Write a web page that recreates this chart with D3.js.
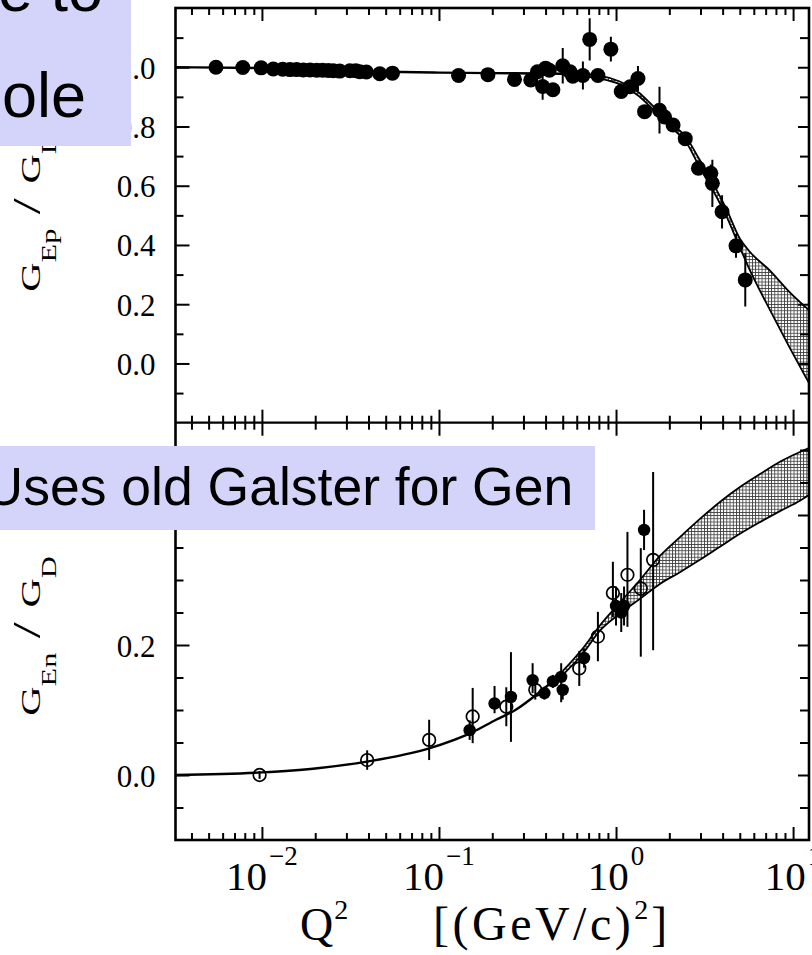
<!DOCTYPE html>
<html>
<head>
<meta charset="utf-8">
<script src="https://cdn.jsdelivr.net/npm/d3@7"></script>
<style>
  html, body { margin: 0; padding: 0; background: #fff; overflow: hidden; }
  svg { display: block; }
</style>
</head>
<body>
<svg id="chart" width="812" height="955"></svg>
<script>
// ---------------- data ----------------
// x axis (Q², log scale)
const xMajorTicks = [0.01, 0.1, 1, 10];
const xTickExponents = ["−2", "−1", "0", "1"];

// y axes
const gepMajorTicks = [0.0, 0.2, 0.4, 0.6, 0.8, 1.0];
const gepMinorTicks = [-0.1, 0.1, 0.3, 0.5, 0.7, 0.9, 1.1];
const gepTickLabels = ["0.0", "0.2", "0.4", "0.6", "0.8", "1.0"];
const genMajorTicks = [0.0, 0.2, 0.4];
const genMinorTicks = [-0.05, 0.05, 0.1, 0.15, 0.25, 0.3, 0.35, 0.45, 0.5];
const genTickLabels = ["0.0", "0.2", "0.4"];

// G_Ep / G_D measurements
const gepQ2 = [0.0055, 0.0078, 0.0099, 0.0116, 0.0131, 0.0144, 0.0157, 0.0171, 0.0187, 0.0204,
               0.0220, 0.0237, 0.0253, 0.0275, 0.0314, 0.0339, 0.0357, 0.0389, 0.0463, 0.0546,
               0.129, 0.189, 0.267, 0.330, 0.385, 0.400, 0.420, 0.440, 0.360, 0.500,
               0.550, 0.570, 0.650, 0.710, 0.790, 0.935, 1.07, 1.20, 1.33, 1.45,
               1.76, 1.88, 2.10, 2.46, 2.92, 3.43, 3.50, 3.97, 4.76, 5.37];
const gepRatio = [1.000, 0.999, 0.998, 0.994, 0.993, 0.992, 0.992, 0.991, 0.991, 0.990,
                  0.990, 0.989, 0.988, 0.987, 0.988, 0.988, 0.985, 0.984, 0.978, 0.980,
                  0.972, 0.975, 0.959, 0.957, 0.935, 0.997, 0.990, 0.924, 0.985, 1.005,
                  0.985, 0.970, 0.972, 1.094, 0.972, 1.061, 0.918, 0.934, 0.962, 0.850,
                  0.855, 0.832, 0.805, 0.759, 0.659, 0.642, 0.608, 0.512, 0.397, 0.282];
const gepErr = [0, 0, 0, 0, 0, 0, 0, 0, 0, 0,
                0, 0, 0, 0, 0, 0, 0, 0, 0, 0,
                0.01, 0.01, 0.01, 0.01, 0.045, 0.02, 0.02, 0.02, 0.02, 0.06,
                0.02, 0.02, 0.047, 0.071, 0.02, 0.042, 0.02, 0.02, 0.042, 0.02,
                0.079, 0.02, 0.02, 0.02, 0.02, 0.03, 0.08, 0.056, 0.04, 0.09];

// G_Ep / G_D fit: single curve, then uncertainty band
const gepCurveQ2 = [0.00325, 0.01, 0.02, 0.05, 0.1, 0.2, 0.35, 0.5];
const gepCurveVal = [1.0, 0.997, 0.993, 0.985, 0.982, 0.980, 0.979, 0.978];
const gepBandQ2 = [0.5, 0.8, 1.05, 1.35, 1.6, 2.1, 2.5, 2.95, 3.5, 4.2, 5.0, 5.7, 7.5, 9.4, 12.3];
const gepBandHi = [0.981, 0.972, 0.952, 0.914, 0.872, 0.806, 0.762, 0.690, 0.612, 0.522, 0.422, 0.377, 0.310, 0.245, 0.180];
const gepBandLo = [0.975, 0.962, 0.942, 0.902, 0.860, 0.792, 0.745, 0.665, 0.588, 0.497, 0.392, 0.315, 0.174, 0.062, -0.066];

// G_En / G_D measurements (open and filled symbols)
const genOpenQ2 = [0.0097, 0.0393, 0.088, 0.155, 0.240, 0.350, 0.620, 0.790, 0.960, 1.160, 1.380, 1.620];
const genOpenRatio = [0.000, 0.023, 0.054, 0.090, 0.105, 0.131, 0.164, 0.213, 0.280, 0.308, 0.287, 0.331];
const genOpenErrLo = [0.006, 0.015, 0.031, 0.041, 0.030, 0.015, 0.027, 0.038, 0.037, 0.080, 0.105, 0.139];
const genOpenErrHi = [0.006, 0.015, 0.031, 0.044, 0.030, 0.015, 0.027, 0.038, 0.048, 0.066, 0.062, 0.135];

const genFilledQ2 = [0.149, 0.206, 0.255, 0.338, 0.394, 0.440, 0.490, 0.500, 0.660, 1.000, 1.070, 1.110, 1.440];
const genFilledRatio = [0.069, 0.110, 0.120, 0.146, 0.126, 0.144, 0.151, 0.131, 0.180, 0.260, 0.250, 0.260, 0.377];
const genFilledErrLo = [0.015, 0.015, 0.069, 0.020, 0.010, 0.010, 0.039, 0.015, 0.015, 0.030, 0.030, 0.030, 0.031];
const genFilledErrHi = [0.015, 0.027, 0.069, 0.026, 0.010, 0.010, 0.021, 0.000, 0.015, 0.030, 0.030, 0.030, 0.031];

// G_En / G_D fit
const genCurveQ2 = [0.00325, 0.01, 0.02, 0.04, 0.088, 0.155, 0.21, 0.27, 0.38, 0.5];
const genCurveVal = [0.0, 0.004, 0.010, 0.021, 0.041, 0.066, 0.085, 0.100, 0.130, 0.157];
const genBandQ2 = [0.5, 0.65, 0.811, 1.05, 1.365, 1.77, 2.296, 2.978, 3.862, 5.01, 6.50, 8.43, 10.93, 12.3];
const genBandHi = [0.160, 0.195, 0.230, 0.265, 0.300, 0.337, 0.366, 0.394, 0.420, 0.443, 0.463, 0.482, 0.497, 0.503];
const genBandLo = [0.154, 0.187, 0.222, 0.248, 0.271, 0.294, 0.312, 0.331, 0.351, 0.371, 0.389, 0.406, 0.422, 0.431];

// ---------------- layout ----------------
const X_LEFT = 175.5, X_RIGHT = 809;
const Y_TOP = 8, Y_MID = 422.7, Y_BOT = 840;
const SERIF = "'Liberation Serif', 'Times New Roman', serif";
const SANS = "'Liberation Sans', Arial, Helvetica, sans-serif";
const BOX_FILL = "#d4d4fa";

const x = d3.scaleLog().domain([0.00325, 12.3]).range([X_LEFT, X_RIGHT]);
const yEp = d3.scaleLinear().domain([-0.2, 1.2]).range([Y_MID, Y_TOP]);
const yEn = d3.scaleLinear().domain([-0.1, 0.542]).range([Y_BOT, Y_MID]);

const svg = d3.select("#chart");
svg.append("rect").attr("width", 812).attr("height", 955).attr("fill", "#fff");

const defs = svg.append("defs");
const pat = defs.append("pattern").attr("id", "hatch")
  .attr("width", 3.2).attr("height", 3.2).attr("patternUnits", "userSpaceOnUse");
pat.append("rect").attr("width", 3.2).attr("height", 3.2).attr("fill", "#fff");
pat.append("path").attr("d", "M0 0.4H3.2M0.4 0V3.2").attr("stroke", "#3a3a3a").attr("stroke-width", 0.9);

defs.append("clipPath").attr("id", "clipEp").append("rect")
  .attr("x", X_LEFT).attr("y", Y_TOP).attr("width", X_RIGHT - X_LEFT).attr("height", Y_MID - Y_TOP);
defs.append("clipPath").attr("id", "clipEn").append("rect")
  .attr("x", X_LEFT).attr("y", Y_MID).attr("width", X_RIGHT - X_LEFT).attr("height", Y_BOT - Y_MID);

// ---------------- fit curves and bands ----------------
function drawFit(clipId, yScale, cQ2, cVal, bQ2, bHi, bLo) {
  const g = svg.append("g").attr("clip-path", `url(#${clipId})`);
  const band = bQ2.map((q, i) => ({ q, hi: bHi[i], lo: bLo[i] }));
  g.append("path").datum(band)
    .attr("d", d3.area().x(d => x(d.q)).y0(d => yScale(d.lo)).y1(d => yScale(d.hi)).curve(d3.curveMonotoneX))
    .attr("fill", "url(#hatch)");
  const line = d3.line().x(d => x(d[0])).y(d => yScale(d[1])).curve(d3.curveMonotoneX);
  g.append("path").datum(cQ2.map((q, i) => [q, cVal[i]]))
    .attr("d", line).attr("fill", "none").attr("stroke", "#000").attr("stroke-width", 2.4);
  g.append("path").datum(bQ2.map((q, i) => [q, bHi[i]]))
    .attr("d", line).attr("fill", "none").attr("stroke", "#000").attr("stroke-width", 1.8);
  g.append("path").datum(bQ2.map((q, i) => [q, bLo[i]]))
    .attr("d", line).attr("fill", "none").attr("stroke", "#000").attr("stroke-width", 1.8);
  return g;
}
drawFit("clipEp", yEp, gepCurveQ2, gepCurveVal, gepBandQ2, gepBandHi, gepBandLo);
drawFit("clipEn", yEn, genCurveQ2, genCurveVal, genBandQ2, genBandHi, genBandLo);

// ---------------- measurements ----------------
function drawPoints(clipId, yScale, q2, val, errLo, errHi, r, open) {
  const pts = q2.map((q, i) => ({ q, v: val[i], lo: errLo[i], hi: errHi[i] }));
  const g = svg.append("g").attr("clip-path", `url(#${clipId})`);
  g.selectAll("line.err").data(pts.filter(d => d.lo > 0 || d.hi > 0)).join("line")
    .attr("class", "err")
    .attr("x1", d => x(d.q)).attr("x2", d => x(d.q))
    .attr("y1", d => yScale(d.v - d.lo)).attr("y2", d => yScale(d.v + d.hi))
    .attr("stroke", "#000").attr("stroke-width", 2);
  g.selectAll("circle").data(pts).join("circle")
    .attr("cx", d => x(d.q)).attr("cy", d => yScale(d.v)).attr("r", r)
    .attr("fill", open ? "none" : "#000")
    .attr("stroke", "#000").attr("stroke-width", open ? 1.7 : 0);
}
drawPoints("clipEp", yEp, gepQ2, gepRatio, gepErr, gepErr, 7.5, false);
drawPoints("clipEn", yEn, genOpenQ2, genOpenRatio, genOpenErrLo, genOpenErrHi, 6.3, true);
drawPoints("clipEn", yEn, genFilledQ2, genFilledRatio, genFilledErrLo, genFilledErrHi, 6.2, false);

// ---------------- axes ----------------
const isPow10 = v => Math.abs(Math.log10(v) - Math.round(Math.log10(v))) < 1e-9;
const xAll = x.ticks().filter(v => v >= x.domain()[0] && v <= x.domain()[1]);
const xMinor = xAll.filter(v => !isPow10(v));

function ticks(gen, values, size, tx, ty) {
  const g = svg.append("g").attr("transform", `translate(${tx},${ty})`)
    .call(gen.tickValues(values).tickSizeInner(size).tickSizeOuter(0).tickFormat(""));
  g.select(".domain").remove();
  g.selectAll(".tick line").attr("stroke", "#000").attr("stroke-width", 2);
  g.selectAll(".tick text").remove();
  return g;
}
// top edge (ticks down), divider (both ways), bottom edge (ticks up)
ticks(d3.axisBottom(x), xMajorTicks, 13, 0, Y_TOP);
ticks(d3.axisBottom(x), xMinor, 7, 0, Y_TOP);
ticks(d3.axisBottom(x), xMajorTicks, 13, 0, Y_MID);
ticks(d3.axisBottom(x), xMinor, 7, 0, Y_MID);
ticks(d3.axisTop(x), xMajorTicks, 13, 0, Y_MID);
ticks(d3.axisTop(x), xMinor, 7, 0, Y_MID);
ticks(d3.axisTop(x), xMajorTicks, 13, 0, Y_BOT);
ticks(d3.axisTop(x), xMinor, 7, 0, Y_BOT);
// left edges (ticks right) and right edges (ticks left)
ticks(d3.axisRight(yEp), gepMajorTicks, 14, X_LEFT, 0);
ticks(d3.axisRight(yEp), gepMinorTicks, 8, X_LEFT, 0);
ticks(d3.axisRight(yEn), genMajorTicks, 14, X_LEFT, 0);
ticks(d3.axisRight(yEn), genMinorTicks, 8, X_LEFT, 0);
ticks(d3.axisLeft(yEp), gepMajorTicks, 11, X_RIGHT, 0);
ticks(d3.axisLeft(yEp), gepMinorTicks, 9, X_RIGHT, 0);
ticks(d3.axisLeft(yEn), genMajorTicks, 11, X_RIGHT, 0);
ticks(d3.axisLeft(yEn), genMinorTicks, 9, X_RIGHT, 0);

// frame and panel divider
svg.append("rect").attr("x", X_LEFT).attr("y", Y_TOP)
  .attr("width", X_RIGHT - X_LEFT).attr("height", Y_BOT - Y_TOP)
  .attr("fill", "none").attr("stroke", "#000").attr("stroke-width", 2.6);
svg.append("line").attr("x1", X_LEFT).attr("x2", X_RIGHT).attr("y1", Y_MID).attr("y2", Y_MID)
  .attr("stroke", "#000").attr("stroke-width", 2.2);

// y tick labels
function yLabels(yScale, values, labels) {
  svg.append("g").selectAll("text").data(values).join("text")
    .attr("x", X_LEFT - 20).attr("y", d => yScale(d) + 11.5)
    .attr("text-anchor", "end")
    .attr("font-family", SERIF).attr("font-size", 31)
    .text((d, i) => labels[i]);
}
yLabels(yEp, gepMajorTicks, gepTickLabels);
yLabels(yEn, genMajorTicks, genTickLabels);

// x tick labels: 10 with exponent
const xl = svg.append("g").selectAll("text").data(xMajorTicks).join("text")
  .attr("x", d => x(d)).attr("y", 890)
  .attr("text-anchor", "middle")
  .attr("font-family", SERIF).attr("font-size", 41);
xl.append("tspan").text("10");
xl.append("tspan").attr("font-size", 27).attr("dy", -25).attr("dx", 2)
  .text((d, i) => xTickExponents[i]);

// x axis title
const xt = svg.append("text").attr("y", 940)
  .attr("font-family", SERIF).attr("font-size", 46);
xt.append("tspan").attr("x", 300).text("Q");
xt.append("tspan").attr("font-size", 28).attr("dy", -21).attr("dx", 1).text("2");
xt.append("tspan").attr("x", 433).attr("dy", 21).attr("font-size", 48).attr("letter-spacing", 3.5).text("[(GeV/c)");
xt.append("tspan").attr("font-size", 28).attr("dy", -21).text("2");
xt.append("tspan").attr("dy", 21).attr("dx", 3).attr("font-size", 48).text("]");

// y axis titles (rotated, with subscripts, stretched along the baseline)
function yTitle(cy, sub1) {
  const t = svg.append("text")
    .attr("transform", `translate(40,${cy}) rotate(-90) scale(1.45,1)`)
    .attr("text-anchor", "middle")
    .attr("font-family", SERIF).attr("font-size", 28);
  t.append("tspan").text("G");
  t.append("tspan").attr("font-size", 21).attr("dy", 16).text(sub1);
  t.append("tspan").attr("dy", -16).attr("font-size", 40).attr("dx", 10).text("/");
  t.append("tspan").attr("dx", 10).text("G");
  t.append("tspan").attr("font-size", 21).attr("dy", 16).text("D");
}
yTitle(212, "Ep");
yTitle(636, "En");

// ---------------- annotation boxes ----------------
svg.append("rect").attr("x", -5).attr("y", -5).attr("width", 136).attr("height", 151).attr("fill", BOX_FILL);
svg.append("text").attr("x", -2).attr("y", 11)
  .attr("font-family", SANS).attr("font-size", 63).text("e to");
svg.append("text").attr("x", 2).attr("y", 117)
  .attr("font-family", SANS).attr("font-size", 63).text("ole");

svg.append("rect").attr("x", -5).attr("y", 446).attr("width", 600).attr("height", 84).attr("fill", BOX_FILL);
svg.append("text").attr("x", -15.5).attr("y", 505)
  .attr("font-family", SANS).attr("font-size", 53.5).text("Uses old Galster for Gen");
</script>
</body>
</html>
